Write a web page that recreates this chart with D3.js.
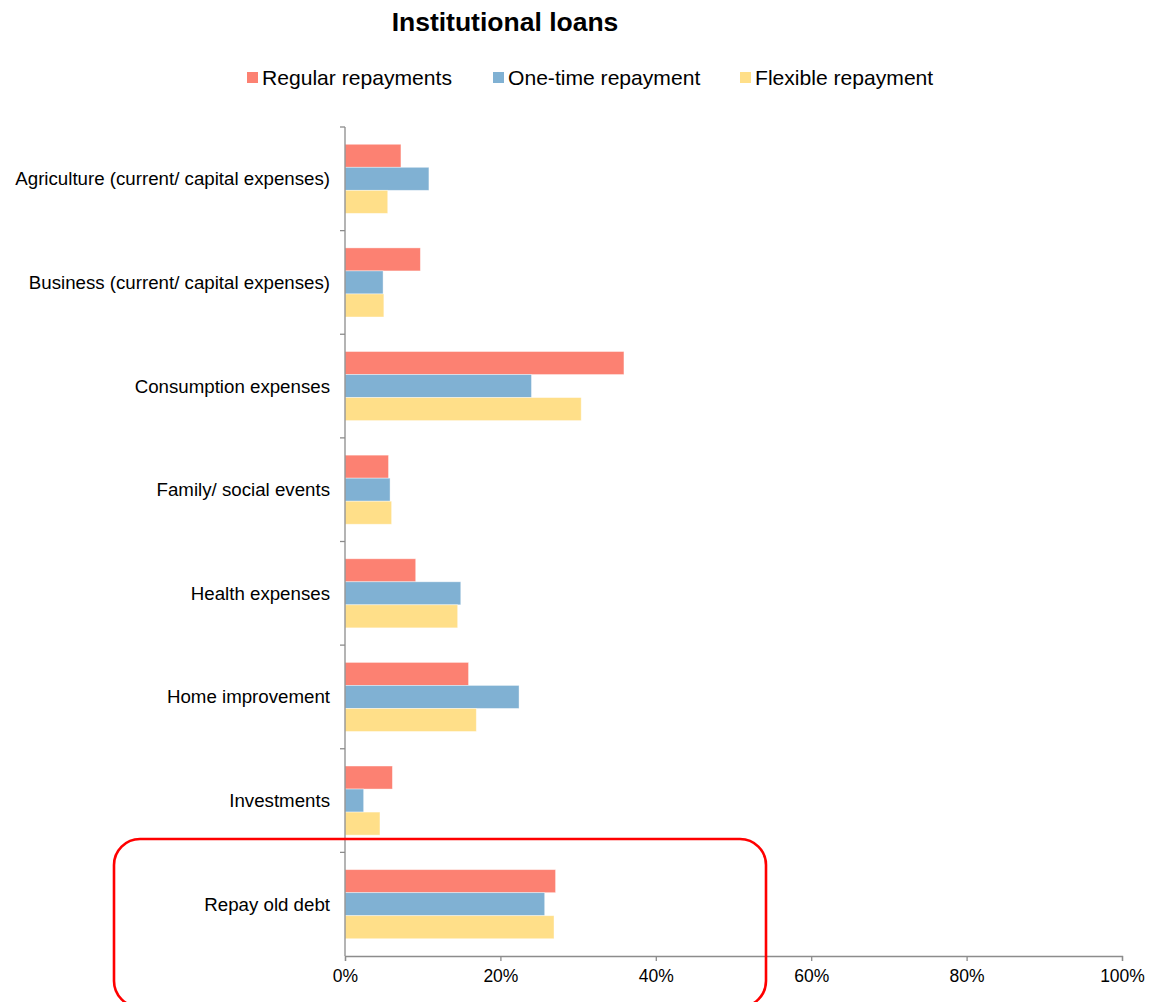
<!DOCTYPE html>
<html>
<head>
<meta charset="utf-8">
<script src="https://cdn.jsdelivr.net/npm/d3@7"></script>
<style>
  body { margin: 0; background: #fff; }
  svg text { font-family: "Liberation Sans", Arial, sans-serif; fill: #000; }
</style>
</head>
<body>
<div id="chart"></div>
<script>
const categories = [
    "Agriculture (current/ capital expenses)",
    "Business (current/ capital expenses)",
    "Consumption expenses",
    "Family/ social events",
    "Health expenses",
    "Home improvement",
    "Investments",
    "Repay old debt"
];
const seriesNames = ["Regular repayments", "One-time repayment", "Flexible repayment"];
const regular  = [7.2, 9.7, 35.9, 5.6, 9.1, 15.9, 6.1, 27.1];
const oneTime  = [10.8, 4.9, 24.0, 5.8, 14.9, 22.4, 2.4, 25.7];
const flexible = [5.5, 5.0, 30.4, 6.0, 14.5, 16.9, 4.5, 26.9];
const xTicks = [0, 20, 40, 60, 80, 100];
const colors = ["#fc8172", "#80b1d3", "#ffdf89"];

const width = 1150, height = 1002;
const margin = {top: 127, right: 28, bottom: 46, left: 345};

const svg = d3.select("#chart").append("svg")
    .attr("width", width)
    .attr("height", height);

const x = d3.scaleLinear()
    .domain([0, 100])
    .range([margin.left, width - margin.right]);

const y = d3.scaleBand()
    .domain(categories)
    .range([margin.top, height - margin.bottom]);

const y1 = d3.scaleBand()
    .domain(seriesNames)
    .range([0, y.bandwidth()])
    .paddingOuter(0.75);

const rows = categories.map((c, i) => ({cat: c, vals: [regular[i], oneTime[i], flexible[i]]}));

// bars
const groups = svg.append("g").selectAll("g")
    .data(rows)
    .enter().append("g")
    .attr("transform", d => `translate(0, ${y(d.cat)})`);

groups.selectAll("rect")
    .data(d => d.vals.map((v, j) => ({name: seriesNames[j], v: v, j: j})))
    .enter().append("rect")
    .attr("x", x(0))
    .attr("y", d => y1(d.name))
    .attr("width", d => x(d.v) - x(0))
    .attr("height", y1.bandwidth())
    .attr("fill", d => colors[d.j])
    .attr("stroke", "#fff")
    .attr("stroke-opacity", 0.5)
    .attr("stroke-width", 0.8);

// y axis
const yAxis = svg.append("g")
    .attr("transform", `translate(${margin.left}, 0)`);
yAxis.append("line")
    .attr("x1", 0).attr("x2", 0)
    .attr("y1", margin.top).attr("y2", height - margin.bottom)
    .attr("stroke", "#8c8c8c").attr("stroke-width", 1.3);
yAxis.selectAll(".tk")
    .data(categories)
    .enter().append("line")
    .attr("x1", -5).attr("x2", 0)
    .attr("y1", d => y(d)).attr("y2", d => y(d))
    .attr("stroke", "#8c8c8c").attr("stroke-width", 1.3);
yAxis.selectAll(".lbl")
    .data(categories)
    .enter().append("text")
    .attr("x", -15)
    .attr("y", d => y(d) + y.bandwidth() / 2)
    .attr("dy", "0.35em")
    .attr("text-anchor", "end")
    .style("font-size", "18.7px")
    .text(d => d);

// x axis
const xAxis = svg.append("g")
    .attr("transform", `translate(0, ${height - margin.bottom})`)
    .call(d3.axisBottom(x).tickValues(xTicks).tickSize(5).tickPadding(9).tickFormat(d => d + "%"));
xAxis.select(".domain").attr("stroke", "#8c8c8c").attr("stroke-width", 1.3);
xAxis.selectAll(".tick line").attr("stroke", "#8c8c8c").attr("stroke-width", 1.3);
xAxis.selectAll(".tick text")
    .style("font-size", "17.5px")
    .style("font-family", "'Liberation Sans', Arial, sans-serif")
    .attr("fill", "#000");

// title
svg.append("text")
    .attr("x", 505)
    .attr("y", 31)
    .attr("text-anchor", "middle")
    .style("font-size", "26.5px")
    .style("font-weight", "bold")
    .text("Institutional loans");

// legend
const legendX = [247, 493, 740];
const legend = svg.append("g").selectAll("g")
    .data(seriesNames)
    .enter().append("g")
    .attr("transform", (d, i) => `translate(${legendX[i]}, 78)`);
legend.append("rect")
    .attr("x", 0).attr("y", -6)
    .attr("width", 11).attr("height", 11)
    .attr("fill", (d, i) => colors[i]);
legend.append("text")
    .attr("x", 15)
    .attr("y", 0)
    .attr("dy", "0.35em")
    .style("font-size", "21.1px")
    .text(d => d);

// highlight around "Repay old debt"
svg.append("rect")
    .attr("x", 114)
    .attr("y", 839)
    .attr("width", 652)
    .attr("height", 168)
    .attr("rx", 26)
    .attr("fill", "none")
    .attr("stroke", "#ff0000")
    .attr("stroke-width", 2.6);
</script>
</body>
</html>
